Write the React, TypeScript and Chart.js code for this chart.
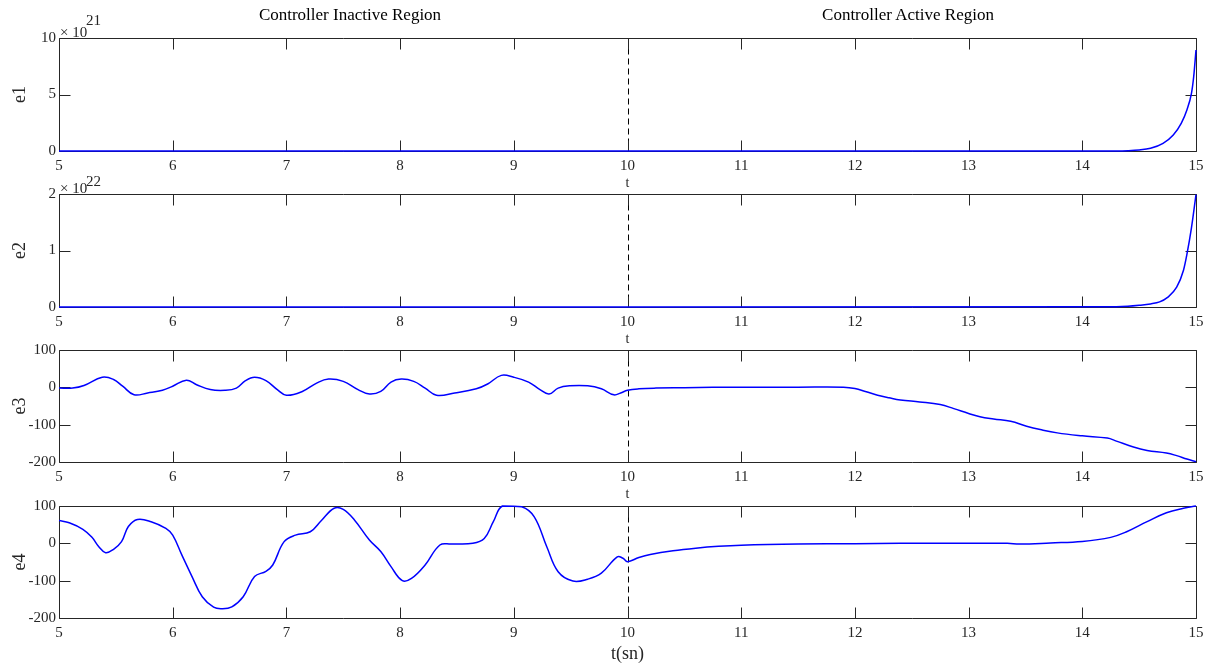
import React, { useEffect, useRef } from 'react';
import { Chart, registerables } from 'chart.js';
Chart.register(...registerables);

// ---------- data ----------
const tE1 = [5, 10, 14.3, 14.4, 14.5, 14.6, 14.71, 14.8, 14.87, 14.92, 14.96, 14.98, 15];
const e1 = [0, 0, 0.01, 0.03, 0.09, 0.24, 0.68, 1.42, 2.45, 3.63, 5.1, 6.6, 8.94]; // ×10^21

const tE2 = [5, 10, 14.3, 14.4, 14.5, 14.6, 14.68, 14.75, 14.83, 14.89, 14.92, 14.96, 15];
const e2 = [0, 0, 0.005, 0.012, 0.03, 0.055, 0.09, 0.17, 0.35, 0.65, 0.93, 1.4, 1.99]; // ×10^22

const tE3 = [5.0, 5.12, 5.22, 5.38, 5.48, 5.56, 5.66, 5.78, 5.91, 6.0, 6.12, 6.21, 6.33, 6.46, 6.56, 6.64, 6.72, 6.82, 6.92, 7.0,
  7.14, 7.27, 7.37, 7.5, 7.63, 7.73, 7.83, 7.92, 8.01, 8.12, 8.22, 8.32, 8.48, 8.67, 8.77, 8.89, 9.0, 9.13, 9.23, 9.31,
  9.39, 9.49, 9.65, 9.77, 9.88, 9.94, 10.0, 10.1, 10.25, 10.5, 10.75, 11.0, 11.5, 11.9, 12.0, 12.1, 12.2, 12.3, 12.4, 12.57,
  12.75, 12.87, 13.0, 13.1, 13.22, 13.37, 13.51, 13.63, 13.78, 14.0, 14.22, 14.3, 14.45, 14.57, 14.74, 14.83, 14.92, 15.0];
const e3 = [-2, -2, 5, 27, 21, 3, -20, -15, -8, 3, 19, 7, -6, -8, -2, 18, 27, 18, -6, -21,
  -11, 12, 22, 16, -6, -18, -11, 14, 22, 16, -2, -21, -15, -4, 9, 32, 27, 14, -6, -18,
  -2, 4, 4, -4, -20, -15, -8, -4, -2, -1, 0, 0.5, 0.5, 0.5, -3, -12, -21, -28, -34, -39,
  -46, -57, -70, -79, -85, -91, -104, -113, -122, -130, -136, -144, -160, -169, -176, -183, -192, -199];

const tE4 = [5.0, 5.09, 5.21, 5.29, 5.35, 5.41, 5.48, 5.55, 5.61, 5.69, 5.81, 5.94, 6.0, 6.08, 6.17, 6.26, 6.36, 6.43, 6.52, 6.62,
  6.72, 6.82, 6.88, 6.98, 7.08, 7.21, 7.31, 7.42, 7.5, 7.6, 7.73, 7.83, 7.92, 8.02, 8.1, 8.22, 8.35, 8.45, 8.64, 8.74,
  8.82, 8.9, 9.07, 9.18, 9.29, 9.39, 9.52, 9.65, 9.77, 9.91, 9.96, 10.0, 10.1, 10.2, 10.4, 10.6, 10.8, 11.0, 11.5, 12.0,
  12.4, 13.34, 13.45, 13.72, 14.0, 14.25, 14.39, 14.57, 14.74, 14.89, 15.0];
const e4 = [61, 55, 37.5, 16, -9, -25, -16, 4.5, 45, 64, 58, 40, 22, -31, -89, -143, -171, -175, -170, -143,
  -89, -75, -58, 4.5, 22, 31, 62, 94, 91, 62, 9, -22, -62.5, -100, -94, -58, -4.5, -2, 0, 13,
  58, 100, 98, 71, -9, -76, -101, -96, -80, -36, -40, -49, -38, -30, -20, -13, -8, -5, -2, -1,
  0, 0, -2, 1, 5, 16, 31, 58, 82, 94, 100];

const xTicks = [5, 6, 7, 8, 9, 10, 11, 12, 13, 14, 15];
const switchTime = 10;
const regionTitles = ['Controller Inactive Region', 'Controller Active Region'];

// ---------- layout ----------
const W = 1215, H = 666;
const FONT = "'Liberation Serif', 'Times New Roman', serif";
const AX = '#262626';

const panels = [
  { t: tE1, v: e1, ymin: 0, ymax: 10, step: 5, ylabel: 'e1', xlabel: 't', top: 38, bottom: 151, xh: 40, xfs: 14, mono: true },
  { t: tE2, v: e2, ymin: 0, ymax: 2, step: 1, ylabel: 'e2', xlabel: 't', top: 194, bottom: 307, xh: 40, xfs: 14, mono: true },
  { t: tE3, v: e3, ymin: -200, ymax: 100, step: 100, ylabel: 'e3', xlabel: 't', top: 350, bottom: 462, xh: 40, xfs: 14, mono: false },
  { t: tE4, v: e4, ymin: -200, ymax: 100, step: 100, ylabel: 'e4', xlabel: 't(sn)', top: 506, bottom: 618, xh: 46, xfs: 18, mono: false },
];

const boxPlugin = {
  id: 'matlabBox',
  beforeDatasetsDraw(chart: any) {
    const { ctx, chartArea: a, scales } = chart;
    const x = scales.x, y = scales.y;
    const L = Math.round(a.left) + 0.5, R = Math.round(a.right) + 0.5;
    const T = Math.round(a.top) + 0.5, B = Math.round(a.bottom) + 0.5;
    ctx.save();
    const px = Math.round(x.getPixelForValue(switchTime)) + 0.5;
    ctx.strokeStyle = '#000';
    ctx.lineWidth = 1;
    ctx.setLineDash([6, 4]);
    ctx.beginPath();
    ctx.moveTo(px, T);
    ctx.lineTo(px, B);
    ctx.stroke();
    ctx.setLineDash([]);
    ctx.strokeStyle = AX;
    ctx.beginPath();
    ctx.rect(L, T, R - L, B - T);
    const TL = 11;
    for (const tk of x.ticks) {
      const p = Math.round(x.getPixelForValue(tk.value)) + 0.5;
      ctx.moveTo(p, B); ctx.lineTo(p, B - TL);
      ctx.moveTo(p, T); ctx.lineTo(p, T + TL);
    }
    for (const tk of y.ticks) {
      const p = Math.round(y.getPixelForValue(tk.value)) + 0.5;
      ctx.moveTo(L, p); ctx.lineTo(L + TL, p);
      ctx.moveTo(R, p); ctx.lineTo(R - TL, p);
    }
    ctx.stroke();
    ctx.restore();
  },
};

function PanelChart({ p }: { p: any }) {
  const ref = useRef<HTMLCanvasElement>(null);
  useEffect(() => {
    const chart = new Chart(ref.current as HTMLCanvasElement, {
      type: 'line',
      data: {
        datasets: [{
          data: p.t.map((t: number, i: number) => ({ x: t, y: p.v[i] })),
          borderColor: '#0000ff',
          borderWidth: 1.5,
          pointRadius: 0,
          fill: false,
          cubicInterpolationMode: p.mono ? 'monotone' : 'default',
          tension: 0.4,
          clip: 3,
        } as any],
      },
      options: {
        animation: false,
        responsive: false,
        events: [],
        layout: { padding: { left: 0, right: W - 1196, top: p.top, bottom: H - p.bottom - p.xh } },
        plugins: { legend: { display: false }, tooltip: { enabled: false } },
        scales: {
          x: {
            type: 'linear',
            min: 5,
            max: 15,
            afterBuildTicks: (s: any) => { s.ticks = xTicks.map((v) => ({ value: v })); },
            afterFit: (s: any) => { s.height = p.xh; },
            grid: { display: false, drawTicks: false },
            border: { display: false },
            ticks: { autoSkip: false, maxRotation: 0, padding: 6, color: AX, font: { family: FONT, size: 15 } },
            title: { display: true, text: p.xlabel, color: AX, padding: { top: 0, bottom: 1 }, font: { family: FONT, size: p.xfs, lineHeight: 1 } },
          },
          y: {
            type: 'linear',
            min: p.ymin,
            max: p.ymax,
            afterFit: (s: any) => { s.width = 59; },
            grid: { display: false, drawTicks: false },
            border: { display: false },
            ticks: { stepSize: p.step, padding: 3, color: AX, font: { family: FONT, size: 15 } },
            title: { display: true, text: p.ylabel, color: AX, padding: { top: 11, bottom: 0 }, font: { family: FONT, size: 18, lineHeight: 1 } },
          },
        },
      },
      plugins: [boxPlugin],
    } as any);
    return () => chart.destroy();
  }, []);
  return <canvas ref={ref} width={W} height={H} style={{ position: 'absolute', left: 0, top: 0 }} />;
}

const txt = (extra: any): any => ({ position: 'absolute', fontFamily: FONT, color: '#000', lineHeight: 1, whiteSpace: 'nowrap', ...extra });

export default function App() {
  return (
    <div style={{ position: 'fixed', left: 0, top: 0, width: W, height: H, background: '#fff', overflow: 'hidden' }}>
      {panels.map((p, i) => <PanelChart key={i} p={p} />)}
      <div style={txt({ left: 150, width: 400, top: 6, fontSize: 17, textAlign: 'center' })}>{regionTitles[0]}</div>
      <div style={txt({ left: 708, width: 400, top: 6, fontSize: 17, textAlign: 'center' })}>{regionTitles[1]}</div>
      <div style={txt({ left: 60, top: 25, fontSize: 15, color: AX })}>× 10</div>
      <div style={txt({ left: 86, top: 13, fontSize: 15, color: AX })}>21</div>
      <div style={txt({ left: 60, top: 181, fontSize: 15, color: AX })}>× 10</div>
      <div style={txt({ left: 86, top: 174, fontSize: 15, color: AX })}>22</div>
    </div>
  );
}
